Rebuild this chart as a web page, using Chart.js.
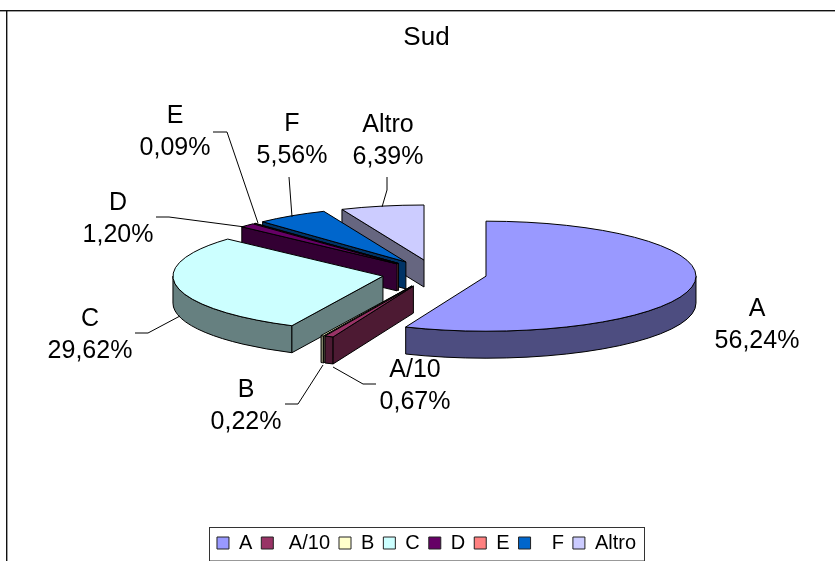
<!DOCTYPE html>
<html>
<head>
<meta charset="utf-8">
<title>Sud</title>
<script src="https://cdn.jsdelivr.net/npm/chart.js@4/dist/chart.umd.min.js"></script>
<style>
  html, body { margin: 0; padding: 0; background: #fff; overflow: hidden; }
  canvas { display: block; }
</style>
</head>
<body>
<canvas id="chart" width="835" height="563"></canvas>
<script>
// Share of each class in the "Sud" area
const categories = ['A', 'A/10', 'B', 'C', 'D', 'E', 'F', 'Altro'];
const shares = [56.24, 0.67, 0.22, 29.62, 1.20, 0.09, 5.56, 6.39];

// Top faces and the darker side walls of each slice
const faceColors = ['#9999FF', '#993366', '#FFFFCC', '#CCFFFF', '#660066', '#FF8080', '#0066CC', '#CCCCFF'];
const sideColors = ['#4D4D80', '#4D1A33', '#808066', '#668080', '#330033', '#804040', '#003366', '#666680'];

// Extra leading blanks that widen some legend entries
const legendPrefix = ['', ' ', '', '', '', '', '  ', ''];

// Paint order, back to front
const paintOrder = [7, 6, 5, 4, 3, 2, 1, 0];

// Callout text centres and their leader lines, per category
const calloutCentres = [[757, 325], [415, 386], [246, 406], [90, 335], [118, 219], [175, 132], [292, 140], [388, 141]];
const calloutLeaders = [
  [],
  [[333, 367], [363, 384], [376, 384]],
  [[323, 365], [298, 404], [285, 404]],
  [[135, 333], [148, 333], [180, 316]],
  [[156, 217], [169, 217], [245, 227]],
  [[213, 132], [227, 132], [258, 223]],
  [[289, 177], [292, 217]],
  [[387, 177], [387, 190], [382, 207]]
];

// Projection of the tilted pie
const FONT = '"Liberation Sans", Arial, sans-serif';
const pieCentre = { x: 434.5, y: 273.5 };
const tilt = 0.262;
const explode = 52.5;
const wallDepth = 27;

function rimPoint(cx, cy, r, a) {
  return [cx + Math.cos(a) * r, cy + Math.sin(a) * r * tilt];
}

function paint(ctx, fill) {
  ctx.fillStyle = fill;
  ctx.fill();
  ctx.stroke();
}

const tiltedPie = {
  id: 'tiltedPie',
  beforeDatasetsDraw(chart) {
    const ctx = chart.ctx;
    const arcs = chart.getDatasetMeta(0).data;
    ctx.save();
    ctx.lineWidth = 1;
    ctx.strokeStyle = '#000';
    ctx.lineJoin = 'round';

    paintOrder.forEach((i) => {
      const { startAngle: start, endAngle: end, outerRadius: r } = arcs[i];
      const mid = (start + end) / 2;
      const cx = pieCentre.x + Math.cos(mid) * explode;
      const cy = pieCentre.y + Math.sin(mid) * explode * tilt;
      const ry = r * tilt;

      // Outer wall: only the part of the rim that faces the viewer
      const from = Math.max(start, 0);
      const to = Math.min(end, Math.PI);
      if (to > from) {
        ctx.beginPath();
        ctx.ellipse(cx, cy, r, ry, 0, from, to);
        ctx.ellipse(cx, cy + wallDepth, r, ry, 0, to, from, true);
        ctx.closePath();
        paint(ctx, sideColors[i]);
      }

      // Cut faces that turn towards the viewer
      const cuts = [];
      if (Math.cos(start) < 0) cuts.push(start);
      if (Math.cos(end) > 0) cuts.push(end);
      cuts.forEach((a) => {
        const [x, y] = rimPoint(cx, cy, r, a);
        ctx.beginPath();
        ctx.moveTo(cx, cy);
        ctx.lineTo(x, y);
        ctx.lineTo(x, y + wallDepth);
        ctx.lineTo(cx, cy + wallDepth);
        ctx.closePath();
        paint(ctx, sideColors[i]);
      });

      // Top face
      ctx.beginPath();
      ctx.moveTo(cx, cy);
      ctx.ellipse(cx, cy, r, ry, 0, start, end);
      ctx.closePath();
      paint(ctx, faceColors[i]);
    });

    // Leader lines and callouts
    ctx.beginPath();
    calloutLeaders.forEach((pts) => {
      pts.forEach(([x, y], n) => (n ? ctx.lineTo(x, y) : ctx.moveTo(x, y)));
    });
    ctx.stroke();

    ctx.fillStyle = '#000';
    ctx.font = '25px ' + FONT;
    ctx.textAlign = 'center';
    ctx.textBaseline = 'middle';
    categories.forEach((name, i) => {
      const [x, y] = calloutCentres[i];
      ctx.fillText(name, x, y - 16);
      ctx.fillText(shares[i].toFixed(2).replace('.', ',') + '%', x, y + 16);
    });
    ctx.restore();
    return false;
  },
  afterDraw(chart) {
    const ctx = chart.ctx;
    ctx.save();
    // Chart frame: only the top and left sides fall inside the page
    ctx.fillStyle = '#111';
    ctx.fillRect(0, 10, chart.width, 1.4);
    ctx.fillRect(6, 10, 1.4, chart.height - 10);

    // Box around the legend entries
    const boxes = chart.legend.legendHitBoxes;
    const first = boxes[0];
    const last = boxes[boxes.length - 1];
    ctx.strokeStyle = '#333';
    ctx.lineWidth = 1;
    ctx.strokeRect(
      Math.round(first.left - 8) + 0.5,
      527.5,
      Math.round(last.left + last.width - first.left + 16),
      33.5
    );
    ctx.restore();
  }
};

new Chart(document.getElementById('chart'), {
  type: 'pie',
  data: {
    labels: categories,
    datasets: [{ data: shares, backgroundColor: faceColors, borderWidth: 0 }]
  },
  options: {
    responsive: false,
    animation: false,
    radius: 210,
    layout: { padding: { left: 18, right: 0, top: 0, bottom: 0 } },
    plugins: {
      title: {
        display: true,
        text: 'Sud',
        color: '#000',
        font: { family: FONT, size: 26, weight: 'normal' },
        padding: { top: 22, bottom: 10 }
      },
      legend: {
        display: true,
        position: 'bottom',
        labels: {
          boxWidth: 12,
          boxHeight: 12,
          padding: 9,
          color: '#000',
          font: { family: FONT, size: 20 },
          generateLabels: () => categories.map((name, i) => ({
            text: legendPrefix[i] + name,
            fillStyle: faceColors[i],
            strokeStyle: '#222',
            lineWidth: 1,
            hidden: false,
            index: i
          }))
        }
      },
      tooltip: { enabled: false }
    }
  },
  plugins: [tiltedPie]
});
</script>
</body>
</html>
